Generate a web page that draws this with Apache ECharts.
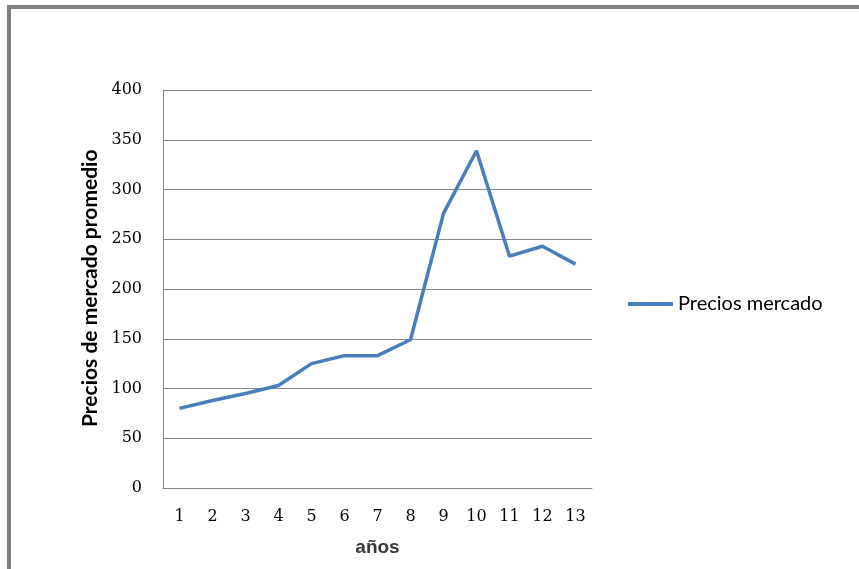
<!DOCTYPE html>
<html>
<head>
<meta charset="utf-8">
<script src="https://cdn.jsdelivr.net/npm/echarts@6/dist/echarts.min.js"></script>
<style>
html,body{margin:0;padding:0;background:#fff;}
#chart{width:859px;height:569px;}
</style>
</head>
<body>
<div id="chart"></div>
<script>
const categories = ['1','2','3','4','5','6','7','8','9','10','11','12','13'];
const preciosMercado = [80, 88, 95, 103, 125, 133, 133, 149, 276, 339, 233, 243, 225];
const seriesName = 'Precios mercado';
const yTitle = 'Precios de mercado promedio';
const xTitle = 'años';

const chart = echarts.init(document.getElementById('chart'), null, {renderer: 'canvas'});
const gray = '#868686';
chart.setOption({
  animation: false,
  backgroundColor: '#fff',
  grid: {left: 163, right: 267, top: 90, bottom: 81, containLabel: false},
  legend: {
    left: 623, top: 289,
    itemWidth: 45, itemHeight: 18,
    textStyle: {fontFamily: 'Lato', fontSize: 20, color: '#000'},
    data: [{name: seriesName, icon: 'path://M0,0 L45,0 L45,4 L0,4 Z'}]
  },
  xAxis: {
    type: 'category',
    data: categories,
    boundaryGap: true,
    name: xTitle,
    nameLocation: 'middle',
    nameGap: 50,
    nameTextStyle: {fontFamily: 'Liberation Sans', fontWeight: 'bold', fontSize: 19, color: '#3a3a3a'},
    axisLine: {show: true, lineStyle: {color: gray, width: 1}},
    axisTick: {show: false},
    axisLabel: {fontFamily: 'DejaVu Serif', fontSize: 16, color: '#000', margin: 21}
  },
  yAxis: {
    type: 'value',
    min: 0, max: 400, interval: 50,
    axisLine: {show: true, lineStyle: {color: gray, width: 1}},
    axisTick: {show: false},
    splitLine: {show: true, lineStyle: {color: gray, width: 1}},
    axisLabel: {fontFamily: 'DejaVu Serif', fontSize: 16, color: '#000', margin: 21}
  },
  series: [{
    name: seriesName,
    type: 'line',
    data: preciosMercado,
    symbol: 'none',
    lineStyle: {color: '#4A7EBB', width: 3.5},
    itemStyle: {color: '#4A7EBB'}
  }],
  graphic: [
    {type: 'rect', shape: {x: 7, y: 5, width: 852, height: 4}, style: {fill: '#808080'}},
    {type: 'rect', shape: {x: 7, y: 5, width: 4, height: 564}, style: {fill: '#808080'}},
    {type: 'text', x: 90, y: 427, rotation: Math.PI / 2,
     style: {text: yTitle, fontFamily: 'Lato', fontWeight: 'bold', fontSize: 21, fill: '#000',
             align: 'left', verticalAlign: 'middle'}}
  ]
});
</script>
</body>
</html>
